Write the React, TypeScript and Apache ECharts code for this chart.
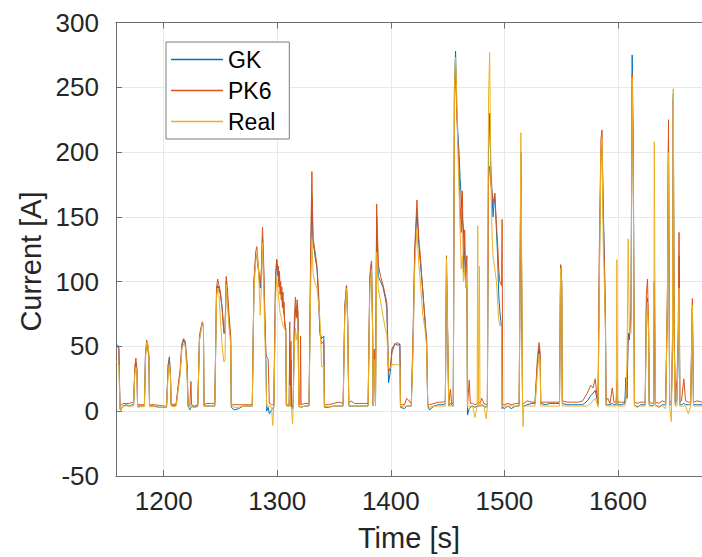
import React, { useEffect, useRef } from "react";
import * as echarts from "echarts";

const seriesNames = ["GK", "PK6", "Real"];
const yTicks = [-50, 0, 50, 100, 150, 200, 250, 300];
const xTickLabels = [1200, 1300, 1400, 1500, 1600];
const xTitle = "Time [s]";
const yTitle = "Current [A]";

const time = [
  1158, 1159.5, 1160.5, 1161.5, 1162, 1164, 1167, 1170, 1172, 1173.5,
  1174.5, 1175.5, 1176.5, 1177, 1180, 1183, 1184, 1185, 1186, 1187,
  1187.5, 1192, 1196, 1200, 1202.5, 1204, 1205, 1206, 1206.5, 1209,
  1211, 1213, 1214.5, 1216, 1217.5, 1219, 1220.5, 1221.5, 1223, 1224,
  1224.5, 1227, 1230, 1231.5, 1232.5, 1234, 1235, 1235.5, 1238, 1242,
  1245, 1246.5, 1247.5, 1248.5, 1250, 1251.5, 1253, 1254, 1255, 1256,
  1257.5, 1259, 1259.5, 1262, 1266, 1270, 1275, 1278, 1279.5, 1281,
  1282, 1283.5, 1285, 1286, 1287, 1288, 1289, 1290, 1290.7, 1292,
  1293, 1295, 1296, 1297, 1298.5, 1299.5, 1300.5, 1301, 1301.5, 1302,
  1302.5, 1303, 1303.5, 1304, 1304.5, 1305, 1305.5, 1306, 1306.5, 1307.5,
  1308, 1309, 1310.5, 1311, 1311.5, 1312, 1312.5, 1313.5, 1314, 1315,
  1316, 1316.8, 1317.5, 1318.3, 1319, 1320, 1320.5, 1321, 1324, 1328,
  1329.5, 1330.5, 1331.5, 1332.5, 1333.5, 1335, 1336.5, 1337.5, 1338.5, 1339,
  1341, 1341.5, 1345, 1350, 1354, 1358, 1359.5, 1361, 1362, 1363,
  1365, 1368, 1372, 1376, 1380, 1381.5, 1383, 1384, 1384.5, 1385.5,
  1386.5, 1387.5, 1389, 1391, 1393, 1395, 1396.5, 1398, 1399.5, 1401,
  1403.5, 1406, 1408, 1408.5, 1412, 1414, 1418, 1419.5, 1421, 1423,
  1424.5, 1426, 1428, 1430, 1431.5, 1432.5, 1434, 1438, 1442, 1446,
  1448, 1449, 1450, 1451, 1452.5, 1453.5, 1455, 1456, 1457, 1458,
  1459, 1460, 1461, 1462, 1463, 1464, 1465, 1466, 1467, 1467.5,
  1469, 1470, 1472, 1474, 1476, 1476.5, 1477, 1478, 1478.5, 1480,
  1482, 1484, 1485, 1486, 1487, 1488, 1489, 1490, 1491.5, 1493,
  1494, 1495, 1496, 1497.5, 1498, 1498.5, 1500, 1503, 1506, 1510,
  1513, 1514.5, 1515.5, 1516, 1516.5, 1517, 1520, 1524, 1527, 1529,
  1530.5, 1531.5, 1532, 1536, 1540, 1545, 1548.5, 1549.5, 1550.5, 1551,
  1555, 1560, 1565, 1569, 1573, 1576, 1578, 1580, 1581.5, 1582.5,
  1583.5, 1585, 1586, 1587, 1588, 1589, 1589.5, 1591, 1593, 1595,
  1596.5, 1598.5, 1599, 1599.8, 1603, 1606, 1607, 1608, 1609, 1610,
  1611.5, 1612.5, 1613.5, 1614.5, 1617, 1620, 1624, 1625, 1626, 1627,
  1627.5, 1630, 1631.5, 1632, 1633, 1636, 1639, 1642, 1643.5, 1644.5,
  1645.5, 1647, 1648, 1648.7, 1649.5, 1650.5, 1652, 1653, 1653.8, 1654.5,
  1656, 1658, 1659.5, 1662, 1664, 1665.5, 1666.5, 1670, 1674,
];

const gk = [
  50, 51, 49, 2, 1, 4, 5, 4, 5, 5,
  30, 38, 30, 4, 4, 4, 44, 52, 50, 40,
  4, 4, 3, 3, 3, 36, 42, 26, 5, 4,
  5, 20, 30, 50, 55, 52, 35, 4, 1, 3,
  4, 3, 4, 55, 62, 68, 65, 4, 4, 4,
  4, 90, 97, 95, 90, 80, 62, 60, 100, 90,
  70, 55, 3, 1, 2, 4, 4, 4, 100, 118,
  120, 108, 95, 100, 135, 110, 75, 40, 0, 3,
  -2, 1, 2, 4, 100, 117, 110, 108, 100, 102,
  95, 96, 90, 92, 85, 86, 80, 80, 70, 62,
  5, 4, 4, 50, 4, 40, 3, 2, 4, 60,
  80, 75, 82, 70, 4, 3, 4, 3, 4, 4,
  120, 165, 130, 125, 118, 110, 85, 62, 58, 56,
  58, 3, 3, 4, 4, 4, 80, 97, 70, 4,
  4, 4, 4, 4, 4, 100, 115, 60, 4, 45,
  4, 150, 104, 100, 96, 88, 80, 22, 30, 48,
  52, 51, 52, 3, 2, 4, 4, 50, 120, 155,
  130, 115, 95, 70, 55, 4, 1, 4, 5, 5,
  6, 110, 60, 4, 6, 5, 4, 250, 278, 235,
  215, 200, 180, 165, 150, 140, 120, 100, 95, -3,
  2, 3, 4, 3, 4, 4, 4, 4, 4, 5,
  4, 3, 4, 200, 230, 190, 171, 150, 168, 140,
  120, 90, 77, 64, 2, 3, 2, 4, 2, 4,
  4, 200, 60, 4, 4, 4, 5, 6, 6, 35,
  50, 40, 6, 5, 6, 6, 6, 113, 100, 6,
  5, 5, 5, 5, 8, 12, 14, 16, 10, 5,
  100, 200, 205, 160, 120, 70, 5, 5, 5, 6,
  5, 5, 20, 5, 5, 6, 26, 10, 60, 55,
  80, 275, 200, 5, 3, 5, 5, 80, 87, 60,
  5, 4, 5, 100, 5, 3, 5, 5, 80, 210,
  5, 5, 50, 245, 60, 5, 10, 40, 120, 5,
  5, 6, 5, 5, 5, 80, 5, 5, 5,
];

const pk6 = [
  51, 50, 48, 5, 4, 6, 6, 6, 7, 6,
  33, 41, 32, 5, 5, 5, 45, 55, 50, 42,
  5, 5, 4.5, 4, 4, 36, 40, 28, 6, 5,
  6, 22, 32, 52, 56, 54, 38, 5, 4, 23,
  5, 4, 5, 58, 63, 69, 66, 5, 6, 6,
  6, 95, 102, 98, 92, 78, 60, 62, 104, 96,
  75, 58, 5, 5, 5, 5, 5, 5, 100, 123,
  127, 110, 98, 110, 142, 115, 74, 45, 42, 40,
  6, 5, 5, 5, 105, 117, 104, 112, 96, 108,
  90, 100, 86, 96, 80, 92, 76, 84, 66, 64,
  6, 5, 6, 69, 5, 54, 4, 3, 5, 70,
  88, 72, 86, 76, 5, 5, 58, 5, 6, 6,
  130, 185, 134, 128, 122, 112, 90, 60, 55, 52,
  54, 5, 5, 6, 7, 6, 82, 97, 72, 6,
  8, 6, 6, 6, 6, 105, 116, 62, 5, 48,
  6, 160, 113, 104, 98, 90, 84, 30, 34, 45,
  52, 53, 50, 5, 5, 10, 6, 57, 125, 163,
  135, 120, 94, 72, 54, 5, 5, 6, 7, 7,
  8, 120, 65, 6, 17, 6, 6, 240, 266, 230,
  209, 190, 160, 138, 170, 107, 140, 105, 120, 4,
  24, 6, 6, 5, 6, 6, 6, 7, 6, 10,
  6, 5, 6, 180, 189, 175, 170, 160, 168, 144,
  130, 110, 100, 97, 148, 5, 5, 6, 5, 6,
  6, 184, 70, 6, 6, 6, 8, 7, 7, 40,
  53, 45, 7, 7, 7, 7, 7, 113, 95, 8,
  7, 7, 7, 8, 14, 20, 18, 25, 12, 7,
  120, 210, 217, 150, 117, 66, 8, 10, 6, 18,
  7, 7, 25, 7, 7, 7, 10, 20, 60, 60,
  70, 260, 190, 7, 6, 7, 7, 90, 102, 65,
  7, 6, 7, 100, 7, 6, 8, 7, 90, 225,
  7, 7, 50, 240, 60, 7, 25, 60, 138, 7,
  8, 25, 8, 7, 7, 87, 7, 8, 7,
];

const real = [
  38, 37, 36, 2, 0, 4, 4, 4, 4, 4,
  28, 34, 30, 3, 3.5, 3.5, 40, 53, 52, 45,
  3.5, 3.5, 3, 3, 3, 30, 36, 26, 4, 3.5,
  4, 18, 28, 48, 52, 50, 30, 3.5, 2, 3,
  3.5, 3, 3.5, 55, 60, 68, 67, 3.5, 4, 4,
  4, 88, 95, 92, 70, 50, 38, 40, 98, 85,
  65, 52, 4, 3, 3, 4, 4, 4, 95, 115,
  122, 110, 74, 95, 130, 100, 60, 30, 4, 4,
  4, 3, -11, 3, 85, 103, 95, 90, 85, 80,
  76, 74, 72, 70, 68, 66, 65, 64, 63, 62,
  4, 4, 4, 20, 4, 4, 3, -10, 4, 50,
  64, 55, 60, 62, 4, 3, 4, 3, 4, 4,
  100, 133, 107, 102, 98, 95, 82, 72, 50, 34.5,
  34.5, 3.5, 3.5, 4, 4, 4, 75, 95, 68, 4,
  4, 4, 4, 4, 4, 95, 110, 58, 4, 40,
  4, 123, 94, 85, 74, 64, 59, 33, 33, 36,
  36, 36, 35, 3.5, 4, 4, 4, 45, 110, 141,
  115, 100, 75, 64, 50, 4, 3, 4, 4, 4,
  4, 118, 60, 4, 4, 4, 4, 250, 273, 245,
  200, 170, 140, 110, 120, 100, 110, 95, 100, 3,
  4, 4, 4, -5, 4, 143, 4, 112, 4, 4,
  4, -6, 4, 240, 277, 190, 140, 120, 110, 100,
  85, 70, 66, 66, 4, 4, 4, 4, 4, 4,
  4, 215, 80, 4, -12, 4, 4, 4, 4, 30,
  44, 38, 4, 4, 4, 4, 4, 110, 100, 4,
  4, 4, 4, 4, 4, 6, 8, 10, 6, 3,
  90, 200, 210, 130, 100, 60, 4, 4, 4, 4,
  4, 4, 117, 4, 4, 4, 8, 40, 133, 60,
  60, 258, 180, 4, 4, 4, 4, 70, 84, 60,
  4, 4, 4, 208, 4, 4, 4, 2, 80, 200,
  4, -8, 60, 249, 50, 4, 4, 50, 95, 4,
  4, 4, 4, -2, 4, 82, 4, 4, 4,
];

const colors = ["#0072BD", "#D95319", "#EDB120"];
const FONT = "'Liberation Sans', Arial, Helvetica, sans-serif";

export default function App() {
  const ref = useRef<HTMLDivElement>(null);
  useEffect(() => {
    if (!ref.current) return;
    const chart = echarts.init(ref.current, undefined, { renderer: "svg" });
    const values = [gk, pk6, real];
    const xMin = 1158;
    const xMax = 1674;
    const axisColor = "#6e6e6e";
    chart.setOption({
      animation: false,
      backgroundColor: "#ffffff",
      grid: { left: 116, right: 0, top: 22.5, bottom: 79, containLabel: false },
      graphic: [
        {
          type: "text",
          x: 30.5,
          y: 261.5,
          rotation: Math.PI / 2,
          style: {
            text: yTitle,
            fontFamily: FONT,
            fontSize: 29,
            fill: "#262626",
            textAlign: "center",
            textVerticalAlign: "middle",
          },
        },
      ],
      legend: {
        show: true,
        orient: "vertical",
        left: 166,
        top: 42,
        padding: [2, 14, 2, 5],
        itemGap: 0,
        itemWidth: 52,
        itemHeight: 1.5,
        itemTextGap: 5,
        icon: "rect",
        backgroundColor: "#ffffff",
        borderColor: "#7a7a7a",
        borderWidth: 1,
        borderRadius: 0,
        textStyle: { fontFamily: FONT, fontSize: 23, color: "#000000", lineHeight: 31 },
        data: seriesNames,
      },
      xAxis: [
        {
          type: "value",
          min: xMin,
          max: xMax,
          position: "bottom",
          name: xTitle,
          nameLocation: "middle",
          nameGap: 47,
          nameTextStyle: { fontFamily: FONT, fontSize: 29, color: "#262626" },
          axisLine: { show: true, onZero: false, lineStyle: { color: axisColor, width: 1 } },
          axisTick: {
            show: true,
            inside: true,
            length: 6,
            lineStyle: { color: axisColor },
            customValues: xTickLabels,
          },
          axisLabel: {
            fontFamily: FONT,
            fontSize: 26,
            color: "#262626",
            margin: 12,
            customValues: xTickLabels,
            formatter: (v: number) => (xTickLabels.includes(v) ? String(v) : ""),
          },
          splitLine: { show: true, lineStyle: { color: "#e8e8e8", width: 1 } },
        },
        {
          type: "value",
          min: xMin,
          max: xMax,
          position: "top",
          axisLine: { show: true, onZero: false, lineStyle: { color: axisColor, width: 1 } },
          axisTick: {
            show: true,
            inside: true,
            length: 6,
            lineStyle: { color: axisColor },
            customValues: xTickLabels,
          },
          axisLabel: { show: false },
          splitLine: { show: false },
        },
      ],
      yAxis: {
        type: "value",
        min: yTicks[0],
        max: yTicks[yTicks.length - 1],
        interval: 50,
        axisLine: { show: true, onZero: false, lineStyle: { color: axisColor, width: 1 } },
        axisTick: { show: true, inside: true, length: 6, lineStyle: { color: axisColor } },
        axisLabel: { fontFamily: FONT, fontSize: 26, color: "#262626", margin: 17 },
        splitLine: { show: true, lineStyle: { color: "#e8e8e8", width: 1 } },
      },
      series: seriesNames.map((name, i) => ({
        name,
        type: "line",
        xAxisIndex: 0,
        data: time.map((t, k) => [t, values[i][k]]),
        showSymbol: false,
        symbol: "none",
        lineStyle: { color: colors[i], width: 1 },
        itemStyle: { color: colors[i] },
        clip: true,
      })),
    });
    return () => chart.dispose();
  }, []);
  return (
    <div
      ref={ref}
      style={{ position: "fixed", left: 0, top: 0, width: 702, height: 557 }}
    />
  );
}
